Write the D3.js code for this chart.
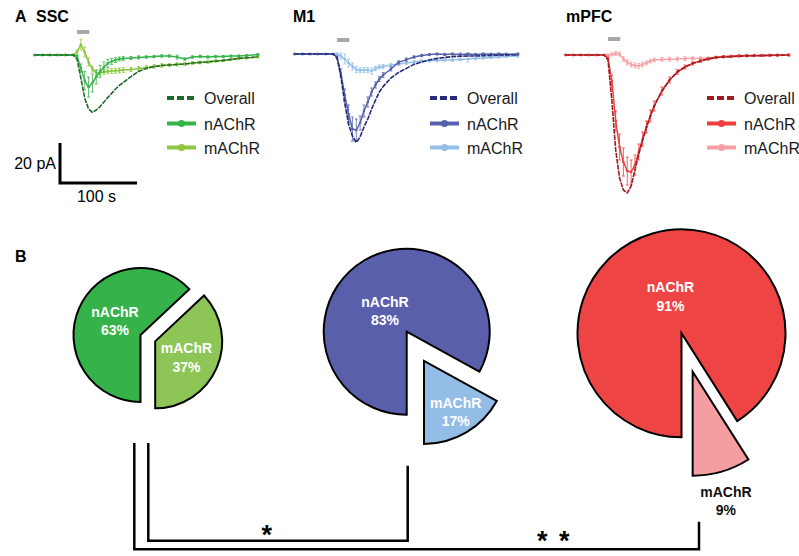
<!DOCTYPE html>
<html>
<head>
<meta charset="utf-8">
<script src="https://cdn.jsdelivr.net/npm/d3@7"></script>
<style>
body { margin: 0; background: #fff; }
svg { display: block; font-family: "Liberation Sans", Arial, sans-serif; }
</style>
</head>
<body>
<svg width="799" height="556"></svg>
<script>
// time of each sample (s), 0 = start of ACh puff
var time = [-55,-45,-35,-25,-15,-5,0,5,10,15,20,25,30,35,40,45,50,55,60,70,80,90,100,110,120,130,140,150,160,170,180,190,200,210,220,235];

// currents (pA)
var sscOverall = [0,0,0,0,0,0,-2,-11.5,-21.5,-27,-28.7,-27.5,-25.8,-23.5,-21.2,-19.2,-17,-15.2,-13.8,-10.8,-8.2,-6.6,-5.8,-5.2,-5,-4.7,-4.5,-4,-3.7,-3.5,-3,-2.7,-2.2,-1.7,-1.4,-0.9];
var sscN = [0,0,0,0,0,0,-0.5,-6.5,-12.8,-16,-14,-11,-8.2,-6,-4.2,-3.2,-2.5,-2,-1.7,-1.5,-1.2,-1,-0.8,-0.5,-0.5,-1,-2,-1,-0.7,-1,-0.8,-0.7,-0.5,-0.5,-0.3,0.2];
var sscM = [0,0,0,0,0,0,1.5,5.2,1.5,-3.5,-7,-9,-8.7,-8.5,-8.2,-8,-7.9,-7.7,-7.5,-7.2,-6.7,-6.2,-5.7,-5.2,-5,-4.7,-4.5,-4,-3.7,-3.5,-3,-2.7,-2.2,-1.7,-1.5,-1];
var sscNErr = [0.3,0.3,0.3,0.3,0.3,0.3,0.5,2,4.5,5,4.5,3.5,3,2.5,2,1.5,1.2,1,1,0.8,0.8,0.6,0.6,0.6,0.6,1,0.6,0.6,0.6,0.6,0.6,0.5,0.5,0.5,0.5,0.5];
var sscMErr = [0.3,0.3,0.3,0.3,0.3,0.3,1,2.7,2.5,2,1.5,1.3,1.3,1.2,1.2,1.2,1.2,1.2,1.2,1,1,1,0.9,0.9,0.8,0.8,0.8,0.7,0.7,0.7,0.6,0.6,0.6,0.5,0.5,0.5];

var m1Overall = [0,0,0,0,0,0,-2,-11,-24.5,-35,-41,-44.2,-41.5,-36.5,-32.5,-27.5,-23,-19,-16.2,-12,-9.2,-7.2,-5.2,-4,-3,-2.2,-1.7,-1.3,-1.1,-1,-1,-0.9,-0.7,-0.6,-0.5,-0.5];
var m1N = [0,0,0,0,0,0,-1.5,-9.5,-20.5,-30,-37.5,-38,-34.5,-28.5,-24,-19,-15.5,-12.5,-10.5,-7.5,-4.2,-2.8,-1.5,-0.8,-0.3,0,-0.2,0,-0.3,0,-0.2,0,-0.1,0,-0.1,0];
var m1M = [0,0,0,0,0,0,0,-1,-2.5,-4.5,-6.2,-7.7,-8.2,-8,-8,-8.5,-7.2,-6.5,-6.2,-5.5,-5,-4.5,-4,-3.5,-3.3,-3.2,-3,-3,-2.7,-2.5,-2.2,-2,-1.7,-1.5,-1.2,-1];
var m1NErr = [0.3,0.3,0.3,0.3,0.3,0.3,0.5,2,3,4.5,6,5.5,3.5,3,2.5,2,1.5,1.2,1.2,1,0.8,0.8,0.6,0.6,0.5,0.5,0.5,0.5,0.8,0.5,0.5,0.5,0.5,0.5,0.5,0.5];
var m1MErr = [0.3,0.3,0.3,0.3,0.3,0.3,0.5,1.5,2.5,2,1.8,1.5,1.3,1.2,1.2,1.5,1,1,1,0.8,0.8,0.8,0.7,0.7,0.7,0.6,0.6,0.6,0.6,1.5,0.6,0.5,0.5,0.5,0.5,0.5];

var pfcOverall = [0,0,0,0,0,0,-2.5,-22.5,-47.5,-61.5,-67.5,-69,-65.5,-57.5,-49.5,-42.5,-36,-30.5,-25.5,-18,-12.5,-8.5,-6,-4.2,-3,-2,-1.2,-1,-0.8,-0.6,-0.5,-0.4,-0.3,-0.2,-0.1,0];
var pfcN = [0,0,0,0,0,0,-1.5,-13,-33,-46,-53.5,-58,-58.5,-55,-48.5,-42,-36,-30.5,-25.5,-18,-12.5,-8.5,-6,-4.2,-3,-2,-1.2,-0.8,-0.6,-0.4,-0.3,-0.2,-0.2,-0.1,-0.1,0];
var pfcM = [0,0,0,0,0,0,0,0.3,0.8,0.5,-2,-3.7,-4.7,-5.2,-5.5,-4.7,-4,-3,-2.5,-2.2,-2.1,-2,-1.8,-1.7,-1.6,-1.5,-1.2,-1,-0.8,-0.6,-0.5,-0.4,-0.3,-0.2,-0.1,0];
var pfcNErr = [0.3,0.3,0.3,0.3,0.3,0.3,0.5,3,5,6.5,7,7,6,5,4,3.5,3,3,2.5,2,1.5,1.2,1,0.8,0.7,0.6,0.5,0.5,0.5,0.5,0.5,0.5,0.5,0.5,0.5,0.5];
var pfcMErr = [0.3,0.3,0.3,0.3,0.3,0.3,0.5,0.8,1,1,1.2,1.3,1.3,1.3,1.3,1.2,1,1,1,1,1,1,0.9,0.8,0.7,0.6,0.6,0.5,0.5,0.5,0.5,0.5,0.5,0.5,0.5,0.5];

var regions = ["SSC", "M1", "mPFC"];
var seriesNames = ["Overall", "nAChR", "mAChR"];
var puff = [0, 16];            // ACh application (s)
var scaleBar = {pA: 20, s: 100};

// receptor contribution (%), nAChR then mAChR
var pieSSC = [63, 37];
var pieM1 = [83, 17];
var piePFC = [91, 9];
var sigLabels = ["*", "* *"];

var svg = d3.select("svg");

var panels = [
  {name: regions[0], titleX: 36, x0: 77, base: 55, barY: 32, legX: 167,
   data: [sscOverall, sscN, sscM], err: [null, sscNErr, sscMErr],
   colors: ["#1f6b2e", "#35b44a", "#8dc63f"]},
  {name: regions[1], titleX: 293, x0: 337, base: 54, barY: 40, legX: 430,
   data: [m1Overall, m1N, m1M], err: [null, m1NErr, m1MErr],
   colors: ["#262b78", "#5561ad", "#93bfe8"]},
  {name: regions[2], titleX: 566, x0: 608, base: 55, barY: 39, legX: 707,
   data: [pfcOverall, pfcN, pfcM], err: [null, pfcNErr, pfcMErr],
   colors: ["#a01b20", "#ee3e3e", "#f6a0a3"]}
];

svg.append("text").attr("x", 15).attr("y", 22)
  .attr("font-weight", "bold").attr("font-size", 16).text("A");
svg.append("text").attr("x", 15).attr("y", 262)
  .attr("font-weight", "bold").attr("font-size", 16).text("B");

var legRows = [98, 123.5, 147.5];

panels.forEach(function(p) {
  var x = d3.scaleLinear().domain([0, 100]).range([p.x0, p.x0 + 77]);
  var y = d3.scaleLinear().domain([0, -20]).range([p.base, p.base + 40]);
  p.x = x; p.y = y;
  var g = svg.append("g");

  g.append("text").attr("x", p.titleX).attr("y", 22)
    .attr("font-weight", "bold").attr("font-size", 16).text(p.name);

  g.append("line")
    .attr("x1", x(puff[0])).attr("x2", x(puff[1]))
    .attr("y1", p.barY).attr("y2", p.barY)
    .attr("stroke", "#a8a8a8").attr("stroke-width", 4);

  var line = d3.line()
    .x(function(d, i) { return x(time[i]); })
    .y(function(d) { return y(d); });

  // mAChR, nAChR, then overall on top
  [2, 1, 0].forEach(function(k) {
    var vals = p.data[k], col = p.colors[k];
    if (p.err[k]) {
      var e = p.err[k];
      var eb = g.append("g").attr("stroke", col).attr("stroke-width", 0.8);
      vals.forEach(function(v, i) {
        var xx = x(time[i]);
        eb.append("line").attr("x1", xx).attr("x2", xx)
          .attr("y1", y(v - e[i])).attr("y2", y(v + e[i]));
        eb.append("line").attr("x1", xx - 1.5).attr("x2", xx + 1.5)
          .attr("y1", y(v - e[i])).attr("y2", y(v - e[i]));
        eb.append("line").attr("x1", xx - 1.5).attr("x2", xx + 1.5)
          .attr("y1", y(v + e[i])).attr("y2", y(v + e[i]));
      });
    }
    g.append("path").datum(vals)
      .attr("fill", "none")
      .attr("stroke", col)
      .attr("stroke-width", k === 0 ? 1.6 : 1.5)
      .attr("stroke-dasharray", k === 0 ? "5,1" : null)
      .attr("stroke-linejoin", "round")
      .attr("d", line);
    if (k > 0) {
      g.selectAll(null).data(vals).enter().append("circle")
        .attr("cx", function(d, i) { return x(time[i]); })
        .attr("cy", function(d) { return y(d); })
        .attr("r", 1.3).attr("fill", col);
    }
  });

  // legend
  seriesNames.forEach(function(s, k) {
    var ly = legRows[k];
    g.append("line")
      .attr("x1", p.legX).attr("x2", p.legX + 29)
      .attr("y1", ly).attr("y2", ly)
      .attr("stroke", p.colors[k]).attr("stroke-width", 4)
      .attr("stroke-dasharray", k === 0 ? "7,3" : null);
    if (k > 0) {
      g.append("circle").attr("cx", p.legX + 14.5).attr("cy", ly)
        .attr("r", 3.5).attr("fill", p.colors[k]);
    }
    g.append("text").attr("x", p.legX + 37).attr("y", ly + 6)
      .attr("font-size", 16).attr("fill", "#1a1a1a").text(s);
  });
});

// scale bar
var sx = panels[0].x, sy = panels[0].y;
var barLen = sx(scaleBar.s) - sx(0), barH = sy(-scaleBar.pA) - sy(0);
var bx = 60, by = 183;
svg.append("path")
  .attr("d", "M" + bx + "," + (by - barH) + "V" + by + "H" + (bx + barLen))
  .attr("fill", "none").attr("stroke", "#000").attr("stroke-width", 3);
svg.append("text").attr("x", bx - 4).attr("y", by - barH / 2 + 6)
  .attr("text-anchor", "end").attr("font-size", 16).text(scaleBar.pA + " pA");
svg.append("text").attr("x", bx + barLen / 2 - 2).attr("y", by + 19)
  .attr("text-anchor", "middle").attr("font-size", 16).text(scaleBar.s + " s");

// pies
var pies = [
  {vals: pieSSC, cx: 140.5, cy: 335, r: 67, explode: 16,
   colors: ["#35b34a", "#8dc656"], labN: [-25.5, -14], labM: [31.3, 16], mOut: false},
  {vals: pieM1, cx: 406.7, cy: 331.7, r: 83, explode: 34,
   colors: ["#5a5fac", "#93bde6"], labN: [-21.7, -21], labM: [31.7, 51], mOut: false},
  {vals: piePFC, cx: 681.5, cy: 333.3, r: 104, explode: 40,
   colors: ["#ef4444", "#f59ea2"], labN: [-11, -37], labM: [33.3, 129.3], mOut: true}
];

var pie = d3.pie().sort(null).startAngle(Math.PI).endAngle(3 * Math.PI);

pies.forEach(function(pp) {
  var arcs = pie(pp.vals);
  var arc = d3.arc().innerRadius(0).outerRadius(pp.r);
  var g = svg.append("g").attr("transform", "translate(" + pp.cx + "," + pp.cy + ")");
  arcs.forEach(function(a, i) {
    var dx = 0, dy = 0;
    if (i === 1) {
      var mid = (a.startAngle + a.endAngle) / 2;
      dx = Math.sin(mid) * pp.explode;
      dy = -Math.cos(mid) * pp.explode;
    }
    var sg = g.append("g").attr("transform", "translate(" + dx + "," + dy + ")");
    sg.append("path").attr("d", arc(a))
      .attr("fill", pp.colors[i]).attr("stroke", "#000").attr("stroke-width", 2)
      .attr("stroke-linejoin", "miter");
    var lab = i === 0 ? pp.labN : pp.labM;
    var fill = (i === 1 && pp.mOut) ? "#111" : "#fff";
    var name = seriesNames[i + 1];
    var t = sg.append("text").attr("text-anchor", "middle")
      .attr("font-weight", "bold").attr("font-size", 14).attr("fill", fill);
    t.append("tspan").attr("x", lab[0]).attr("y", lab[1] - 9.2 + 5).text(name);
    t.append("tspan").attr("x", lab[0]).attr("y", lab[1] + 9.2 + 5).text(a.data + "%");
  });
});

// significance brackets
var brackets = [
  {d: "M148.3,443V540.7H407.7V465.7", lx: 266.7, ly: 543.5, label: sigLabels[0]},
  {d: "M134.3,443V549.3H699V521.7", lx: 554.3, ly: 549.5, label: sigLabels[1]}
];
brackets.forEach(function(b) {
  svg.append("path").attr("d", b.d)
    .attr("fill", "none").attr("stroke", "#000").attr("stroke-width", 2.5);
  svg.append("text").attr("x", b.lx).attr("y", b.ly)
    .attr("text-anchor", "middle").attr("font-weight", "bold")
    .attr("font-size", 27).attr("letter-spacing", b.label.length > 1 ? 2 : 0)
    .text(b.label);
});
</script>
</body>
</html>
